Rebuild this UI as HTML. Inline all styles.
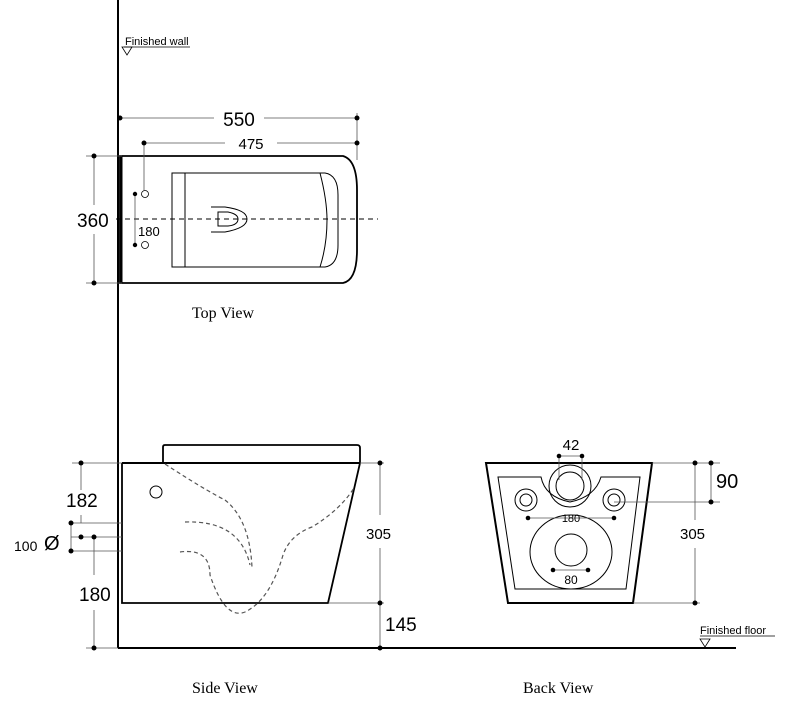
<!DOCTYPE html>
<html><head><style>html,body{margin:0;padding:0;background:#fff}svg{display:block}</style></head><body>
<svg width="800" height="713" viewBox="0 0 800 713" xmlns="http://www.w3.org/2000/svg" font-family="Liberation Sans, sans-serif">
<g stroke="#000" fill="none">
<line x1="118" y1="0" x2="118" y2="648" stroke-width="2"/>
<line x1="118" y1="648" x2="736" y2="648" stroke-width="2"/>
<line x1="124" y1="47" x2="190" y2="47" stroke-width="0.8"/>
<path d="M122 47 L132 47 L127 55 Z" stroke-width="0.8"/>
<line x1="700" y1="636" x2="775" y2="636" stroke-width="0.8"/>
<path d="M700 639 L710 639 L705 647 Z" stroke-width="0.8"/>

<path d="M120 156 L343 156 Q357 160 357 190 L357 250 Q357 280 343 283 L120 283 Z" stroke-width="1.8"/>
<line x1="121" y1="156" x2="121" y2="283" stroke-width="3"/>
<path d="M172 173 L325 173 Q338 175 338 195 L338 245 Q338 265 325 267 L172 267 Z" stroke-width="1"/>
<line x1="185" y1="173" x2="185" y2="267" stroke-width="1"/>
<path d="M320 173 Q327 200 327 220 Q327 245 320 267" stroke-width="1"/>
<path d="M211 207 L225 207 Q247 210 247 219 Q247 228 225 232 L211 232" stroke-width="1"/>
<path d="M218 212 L228 212 Q238 214 238 219 Q238 225 228 226 L218 226 Z" stroke-width="1"/>
<line x1="116" y1="219" x2="378" y2="219" stroke-width="1" stroke-dasharray="5,4"/>
<circle cx="145" cy="194" r="3.5" stroke-width="0.8"/>
<circle cx="145" cy="245" r="3.5" stroke-width="0.8"/>
<g stroke-width="0.8" stroke="#555">
<line x1="120" y1="118" x2="214" y2="118"/><line x1="264" y1="118" x2="357" y2="118"/>
<line x1="144" y1="143" x2="225" y2="143"/><line x1="277" y1="143" x2="357" y2="143"/>
<line x1="357" y1="113" x2="357" y2="160"/>
<line x1="144" y1="143" x2="144" y2="190"/>
<line x1="94" y1="156" x2="94" y2="205"/><line x1="94" y1="234" x2="94" y2="283"/>
<line x1="86" y1="156" x2="122" y2="156"/><line x1="86" y1="283" x2="122" y2="283"/>
<line x1="135" y1="194" x2="135" y2="245"/>
</g>
</g>
<g fill="#000">
<circle cx="120" cy="118" r="2.5"/><circle cx="357" cy="118" r="2.5"/>
<circle cx="144" cy="143" r="2.5"/><circle cx="357" cy="143" r="2.5"/>
<circle cx="94" cy="156" r="2.5"/><circle cx="94" cy="283" r="2.5"/>
<circle cx="135" cy="194" r="2.2"/><circle cx="135" cy="245" r="2.2"/>
</g>
<g fill="#000">
<text x="125" y="45" font-size="11">Finished wall</text>
<text x="239" y="126" font-size="19" text-anchor="middle">550</text>
<text x="251" y="149" font-size="15" text-anchor="middle">475</text>
<text x="77" y="227" font-size="19">360</text>
<text x="138" y="236" font-size="13">180</text>
<text x="192" y="318" font-size="16" font-family="Liberation Serif, serif">Top View</text>
<text x="192" y="693" font-size="16" font-family="Liberation Serif, serif">Side View</text>
<text x="523" y="693" font-size="16" font-family="Liberation Serif, serif">Back View</text>
<text x="700" y="634" font-size="11">Finished floor</text>
</g>

<g stroke="#000" fill="none">
<path d="M163 463 L163 447 Q163 445 165 445 L357 445 Q360 445 360 448 L360 463" stroke-width="1.8"/>
<line x1="122" y1="463" x2="360" y2="463" stroke-width="2"/>
<path d="M122 463 L122 603 L328 603 L360 463" stroke-width="1.8"/>
<circle cx="156" cy="492" r="6" stroke-width="1"/>
<g stroke="#555" stroke-width="1.2" stroke-dasharray="4,3">
<path d="M165 464 Q205 490 225 500 Q250 520 252 568"/>
<path d="M185 522 Q240 520 250 565"/>
<path d="M180 552 Q210 548 210 575 Q225 620 245 612 Q270 600 283 555 Q290 535 312 527 Q340 510 354 488"/>
</g>
<g stroke="#555" stroke-width="0.8">
<line x1="72" y1="463" x2="122" y2="463"/>
<line x1="81" y1="463" x2="81" y2="490"/><line x1="81" y1="515" x2="81" y2="523"/>
<line x1="71" y1="523" x2="122" y2="523"/><line x1="71" y1="537" x2="122" y2="537"/><line x1="71" y1="551" x2="122" y2="551"/>
<line x1="71" y1="523" x2="71" y2="551"/>
<line x1="94" y1="537" x2="94" y2="575"/><line x1="94" y1="610" x2="94" y2="648"/>
<line x1="86" y1="648" x2="118" y2="648"/>
<line x1="360" y1="463" x2="384" y2="463"/><line x1="328" y1="603" x2="384" y2="603"/>
<line x1="380" y1="463" x2="380" y2="515"/><line x1="380" y1="548" x2="380" y2="648"/>
</g>
</g>
<g fill="#000">
<circle cx="81" cy="463" r="2.5"/><circle cx="71" cy="523" r="2.5"/><circle cx="81" cy="537" r="2.5"/><circle cx="94" cy="537" r="2.5"/><circle cx="71" cy="551" r="2.5"/><circle cx="94" cy="648" r="2.5"/>
<circle cx="380" cy="463" r="2.5"/><circle cx="380" cy="603" r="2.5"/><circle cx="380" cy="648" r="2.5"/>
<text x="66" y="507" font-size="19">182</text>
<text x="14" y="551" font-size="14">100</text>
<text x="44" y="550" font-size="20">Ø</text>
<text x="79" y="601" font-size="19">180</text>
<text x="366" y="539" font-size="15">305</text>
<text x="385" y="631" font-size="19">145</text>
</g>

<g stroke="#000" fill="none">
<path d="M486 463 L652 463 L633 603 L508 603 Z" stroke-width="2"/>
<path d="M498 477 L541 477 Q545 497 570 502 Q595 497 601 477 L640 477 L626 589 L515 589 Z" stroke-width="1"/>
<circle cx="570" cy="486" r="14" stroke-width="1"/>
<circle cx="570" cy="486" r="21" stroke-width="1"/>
<circle cx="526" cy="500" r="11" stroke-width="1"/><circle cx="526" cy="500" r="6" stroke-width="1"/>
<circle cx="614" cy="500" r="11" stroke-width="1"/><circle cx="614" cy="500" r="6" stroke-width="1"/>
<ellipse cx="571" cy="552" rx="41" ry="37" stroke-width="1"/>
<circle cx="571" cy="550" r="16" stroke-width="1"/>
<g stroke="#555" stroke-width="0.8">
<line x1="559" y1="456" x2="559" y2="480"/><line x1="582" y1="456" x2="582" y2="480"/>
<line x1="558" y1="456" x2="583" y2="456"/>
<line x1="528" y1="518" x2="614" y2="518"/>
<line x1="553" y1="570" x2="588" y2="570"/>
<line x1="652" y1="463" x2="720" y2="463"/><line x1="614" y1="502" x2="720" y2="502"/>
<line x1="633" y1="603" x2="700" y2="603"/>
<line x1="695" y1="463" x2="695" y2="520"/><line x1="695" y1="548" x2="695" y2="603"/>
<line x1="711" y1="463" x2="711" y2="502"/>
</g>
</g>
<g fill="#000">
<circle cx="559" cy="456" r="2.3"/><circle cx="582" cy="456" r="2.3"/>
<circle cx="528" cy="518" r="2.3"/><circle cx="614" cy="518" r="2.3"/>
<circle cx="553" cy="570" r="2.3"/><circle cx="588" cy="570" r="2.3"/>
<circle cx="695" cy="463" r="2.5"/><circle cx="695" cy="603" r="2.5"/>
<circle cx="711" cy="463" r="2.5"/><circle cx="711" cy="502" r="2.5"/>
<text x="571" y="450" font-size="15" text-anchor="middle">42</text>
<text x="571" y="522" font-size="11" text-anchor="middle">180</text>
<text x="571" y="584" font-size="12" text-anchor="middle">80</text>
<text x="680" y="539" font-size="15">305</text>
<text x="716" y="488" font-size="20">90</text>
</g>
</svg>
</body></html>
